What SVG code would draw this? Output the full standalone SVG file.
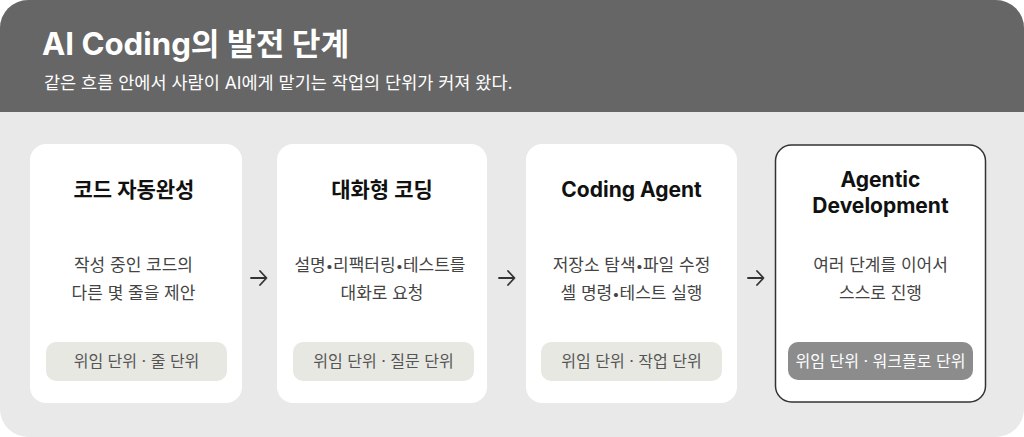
<svg xmlns="http://www.w3.org/2000/svg" width="1024" height="437" viewBox="0 0 1024 437">
  <defs>
    <style>
      .hd { font-family: "Inter", "Noto Sans CJK KR", sans-serif; fill: #ffffff; }
      .card { fill: #ffffff; }
      .card-em { fill: #ffffff; stroke: #333333; stroke-width: 1.5; }
      .title { font-family: "Inter", "Noto Sans CJK KR", sans-serif; font-size: 21px; font-weight: 700; fill: #111111; text-anchor: middle; }
      .desc { font-family: "Inter", "Noto Sans CJK KR", sans-serif; font-size: 17px; fill: #444444; text-anchor: middle; }
      .dot { font-size: 13px; }
      .pill { fill: #e8e8e3; }
      .pill-em { fill: #8c8c8c; }
      .ptxt { font-family: "Inter", "Noto Sans CJK KR", sans-serif; font-size: 16px; fill: #555555; text-anchor: middle; }
      .ptxt-em { font-family: "Inter", "Noto Sans CJK KR", sans-serif; font-size: 16px; fill: #ffffff; text-anchor: middle; }
      .arrow { fill: none; stroke: #333333; stroke-width: 1.8; stroke-linecap: round; stroke-linejoin: round; }
    </style>
  </defs>

  <g id="background">
    <rect x="0" y="0" width="1024" height="437" rx="28" ry="28" fill="#e9e9e9"/>
    <path d="M0 112 V28 A28 28 0 0 1 28 0 H996 A28 28 0 0 1 1024 28 V112 Z" fill="#666666"/>
  </g>

  <g id="header">
    <text class="hd" x="42" y="55" font-size="31.2" font-weight="700">AI Coding의 발전 단계</text>
    <text class="hd" x="44" y="89" font-size="17.5" fill="#f0f0f0">같은 흐름 안에서 사람이 AI에게 맡기는 작업의 단위가 커져 왔다.</text>
  </g>

  <g id="node-autocomplete">
    <rect class="card" x="30" y="144" width="212" height="259" rx="16"/>
    <text class="title" x="134" y="197">코드 자동완성</text>
    <text class="desc" x="133.5" y="271">작성 중인 코드의</text>
    <text class="desc" x="133.5" y="299">다른 몇 줄을 제안</text>
    <rect class="pill" x="46" y="342" width="181" height="39" rx="10"/>
    <text class="ptxt" x="136.5" y="367">위임 단위 · 줄 단위</text>
  </g>

  <g id="node-chat">
    <rect class="card" x="277" y="144" width="210" height="259" rx="16"/>
    <text class="title" x="382" y="197">대화형 코딩</text>
    <text class="desc" x="380" y="271">설명<tspan class="dot">•</tspan>리팩터링<tspan class="dot">•</tspan>테스트를</text>
    <text class="desc" x="382" y="299">대화로 요청</text>
    <rect class="pill" x="293" y="342" width="181" height="39" rx="10"/>
    <text class="ptxt" x="383.5" y="367">위임 단위 · 질문 단위</text>
  </g>

  <g id="node-agent">
    <rect class="card" x="526" y="144" width="211" height="259" rx="16"/>
    <text class="title" x="631.5" y="197">Coding Agent</text>
    <text class="desc" x="631.5" y="271">저장소 탐색<tspan class="dot">•</tspan>파일 수정</text>
    <text class="desc" x="631.5" y="299">셸 명령<tspan class="dot">•</tspan>테스트 실행</text>
    <rect class="pill" x="541" y="342" width="181" height="39" rx="10"/>
    <text class="ptxt" x="631.5" y="367">위임 단위 · 작업 단위</text>
  </g>

  <g id="node-agentic">
    <rect class="card-em" x="775.5" y="145" width="210" height="257" rx="16"/>
    <text class="title" x="880.5" y="187">Agentic</text>
    <text class="title" x="880.5" y="213">Development</text>
    <text class="desc" x="880.5" y="271">여러 단계를 이어서</text>
    <text class="desc" x="880.5" y="299">스스로 진행</text>
    <rect class="pill-em" x="788" y="342" width="185" height="38" rx="10"/>
    <text class="ptxt-em" x="880.5" y="367">위임 단위 · 워크플로 단위</text>
  </g>

  <g id="connectors">
    <path class="arrow" d="M251 278 H266 M260 271 L266.5 278 L260 285"/>
    <path class="arrow" d="M499 278 H514 M508 271 L514.5 278 L508 285"/>
    <path class="arrow" d="M748 278 H763 M757 271 L763.5 278 L757 285"/>
  </g>
</svg>
